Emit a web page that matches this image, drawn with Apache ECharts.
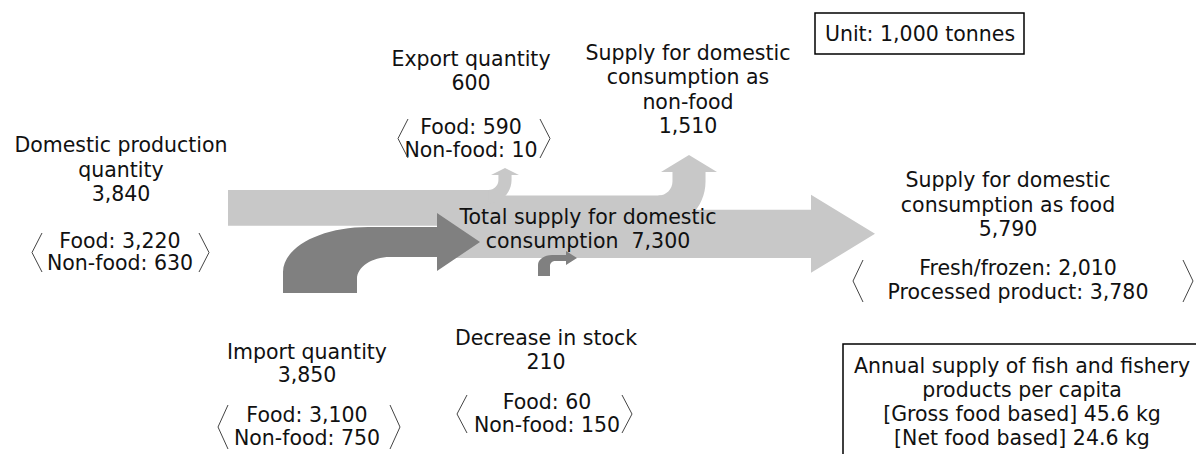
<!DOCTYPE html>
<html>
<head>
<meta charset="utf-8">
<script src="https://cdn.jsdelivr.net/npm/echarts@6/dist/echarts.min.js"></script>
<style>
  html, body { margin: 0; padding: 0; background: #fff; }
  #chart { width: 1196px; height: 454px; }
</style>
</head>
<body>
<div id="chart"></div>
<script>
  // unit: 1,000 tonnes
  var domestic = [3840, 3220, 630];      // total, food, non-food
  var imports = [3850, 3100, 750];
  var stockDecrease = [210, 60, 150];
  var exportQty = [600, 590, 10];
  var totalSupply = 7300;
  var nonFoodSupply = 1510;
  var foodSupply = [5790, 2010, 3780];   // total, fresh/frozen, processed
  var perCapita = [45.6, 24.6];          // kg, gross / net food based

  function fmt(n) { return n.toLocaleString('en-US'); }

  // flow thickness: px per 1,000 t
  var k = 68 / totalSupply;
  var K = 0.5523; // bezier quarter circle

  // layout (positions only)
  var band = { left: 228, top: 190, bodyLeft: 455, headBase: 811, tip: 875, headHalf: 39 };
  var exportBr = { cx: 505, rIn: 10, headBase: 175, headW: 28, headH: 7 };
  var nonFoodBr = { cx: 689, rIn: 14, headBase: 172, headW: 56, headH: 17 };
  var importArrow = { stemX: 283, stemW: 74, bottom: 293, shaftY: 242, shaftW: 30, ro: 45, ro2: 85, ri: 22, ri2: 33, headX: 437, headW: 58, tipX: 480 };
  var stockArrow = { stemX: 538, stemW: 12, bottom: 276, shaftY: 258, shaftW: 6, ro: 10, ro2: 14, ri: 5, ri2: 5, headX: 566, headW: 14, tipX: 577 };

  var LIGHT = '#c8c8c8', DARK = '#808080', INK = '#111';
  var FONT = '20.5px "DejaVu Sans", sans-serif';

  function mainShape() {
    var yExp = band.top + exportQty[0] * k;
    var yNon = yExp + nonFoodSupply * k;
    var yDom = band.top + domestic[0] * k;
    var yBot = band.top + totalSupply * k;
    var mid = (yNon + yBot) / 2;
    return [
      ['M', band.left, band.top], ['L', exportBr.cx, band.top], ['L', exportBr.cx, yExp],
      ['L', nonFoodBr.cx, yExp], ['L', nonFoodBr.cx, yNon], ['L', band.headBase, yNon],
      ['L', band.headBase, mid - band.headHalf], ['L', band.tip, mid], ['L', band.headBase, mid + band.headHalf],
      ['L', band.headBase, yBot], ['L', band.bodyLeft, yBot], ['L', band.bodyLeft, yDom],
      ['L', band.left, yDom], ['Z']
    ];
  }

  function branchUp(b, yTop, w) {
    var xl = b.cx - w / 2, xr = b.cx + w / 2, ax = xl - b.rIn, ay = yTop - b.rIn, rOut = b.rIn + w;
    return [
      ['M', ax, yTop],
      ['C', ax + b.rIn * K, yTop, xl, ay + b.rIn * K, xl, ay],
      ['L', xl, b.headBase], ['L', b.cx - b.headW / 2, b.headBase], ['L', b.cx, b.headBase - b.headH],
      ['L', b.cx + b.headW / 2, b.headBase], ['L', xr, b.headBase], ['L', xr, ay],
      ['C', xr, ay + rOut * K, ax + rOut * K, ay + rOut, ax, ay + rOut],
      ['Z']
    ];
  }

  function bentRight(a) {
    var sT = a.shaftY - a.shaftW / 2, sB = a.shaftY + a.shaftW / 2, xr = a.stemX + a.stemW;
    return [
      ['M', a.stemX, a.bottom], ['L', a.stemX, sT + a.ro],
      ['C', a.stemX, sT + a.ro * (1 - K), a.stemX + a.ro2 * (1 - K), sT, a.stemX + a.ro2, sT],
      ['L', a.headX, sT], ['L', a.headX, a.shaftY - a.headW / 2], ['L', a.tipX, a.shaftY],
      ['L', a.headX, a.shaftY + a.headW / 2], ['L', a.headX, sB], ['L', xr + a.ri2, sB],
      ['C', xr + a.ri2 * (1 - K), sB, xr, sB + a.ri * (1 - K), xr, sB + a.ri],
      ['L', xr, a.bottom], ['Z']
    ];
  }

  var shapes = [
    { cmds: mainShape(), color: LIGHT },
    { cmds: branchUp(exportBr, band.top, exportQty[0] * k * 2.35), color: LIGHT },
    { cmds: branchUp(nonFoodBr, band.top + exportQty[0] * k, nonFoodSupply * k * 2.35), color: LIGHT },
    { cmds: bentRight(importArrow), color: DARK },
    { cmds: bentRight(stockArrow), color: DARK }
  ];

  function toPath(api, cmds) {
    return cmds.map(function (c) {
      if (c[0] === 'Z') return 'Z';
      var s = c[0];
      for (var i = 1; i < c.length; i += 2) {
        var p = api.coord([c[i], c[i + 1]]);
        s += ' ' + p[0].toFixed(2) + ' ' + p[1].toFixed(2);
      }
      return s;
    }).join(' ');
  }

  // text blocks
  function txt(x, y, lines, lh) {
    return { type: 'text', z: 100, x: x, y: y, silent: true,
      style: { text: lines.join('\n'), font: FONT, fill: INK, align: 'center', verticalAlign: 'middle', lineHeight: lh } };
  }
  function bracket(x0, x1, y0, y1) {
    return { type: 'polyline', z: 100, silent: true,
      shape: { points: [[x1, y0], [x0, (y0 + y1) / 2], [x1, y1]] },
      style: { stroke: '#444', lineWidth: 1, fill: null } };
  }

  var graphics = [
    txt(121, 169.5, ['Domestic production', 'quantity', fmt(domestic[0])], 24.5),
    txt(120, 252, ['Food: ' + fmt(domestic[1]), 'Non-food: ' + fmt(domestic[2])], 22.5),
    bracket(32, 42, 233, 272), bracket(209, 199, 233, 272),

    txt(471, 71, ['Export quantity', fmt(exportQty[0])], 24),
    txt(471, 138.5, ['Food: ' + fmt(exportQty[1]), 'Non-food: ' + fmt(exportQty[2])], 22.5),
    bracket(398, 408, 119, 158), bracket(550, 540, 119, 158),

    txt(688, 89.5, ['Supply for domestic', 'consumption as', 'non-food', fmt(nonFoodSupply)], 24.5),

    txt(588, 229, ['Total supply for domestic', 'consumption  ' + fmt(totalSupply)], 24.2),

    txt(1008, 204.5, ['Supply for domestic', 'consumption as food', fmt(foodSupply[0])], 24.5),
    txt(1018, 280, ['Fresh/frozen: ' + fmt(foodSupply[1]), 'Processed product: ' + fmt(foodSupply[2])], 24),
    bracket(853, 863, 260, 302), bracket(1193, 1183, 260, 302),

    txt(307, 363, ['Import quantity', fmt(imports[0])], 23),
    txt(307, 426.5, ['Food: ' + fmt(imports[1]), 'Non-food: ' + fmt(imports[2])], 23),
    bracket(218, 228, 405, 449), bracket(400, 390, 405, 449),

    txt(546, 350, ['Decrease in stock', fmt(stockDecrease[0])], 24),
    txt(547, 413.5, ['Food: ' + fmt(stockDecrease[1]), 'Non-food: ' + fmt(stockDecrease[2])], 23),
    bracket(457, 467, 395, 433), bracket(632, 622, 395, 433),

    { type: 'rect', z: 90, silent: true, shape: { x: 815, y: 13, width: 209, height: 41 },
      style: { fill: '#fff', stroke: '#000', lineWidth: 1.5 } },
    txt(920, 34, ['Unit: 1,000 tonnes'], 24),

    { type: 'rect', z: 90, silent: true, shape: { x: 843, y: 344, width: 400, height: 200 },
      style: { fill: '#fff', stroke: '#000', lineWidth: 1.5 } },
    txt(1022, 402, ['Annual supply of fish and fishery', 'products per capita',
      '[Gross food based] ' + perCapita[0] + ' kg', '[Net food based] ' + perCapita[1] + ' kg'], 24.3)
  ];

  var chart = echarts.init(document.getElementById('chart'), null, { renderer: 'svg' });
  chart.setOption({
    animation: false,
    backgroundColor: '#fff',
    grid: { left: 0, right: 0, top: 0, bottom: 0 },
    xAxis: { type: 'value', min: 0, max: 1196, show: false },
    yAxis: { type: 'value', min: 0, max: 454, inverse: true, show: false },
    series: [{
      type: 'custom',
      silent: true,
      data: shapes.map(function (s, i) { return [i, 0]; }),
      renderItem: function (params, api) {
        var s = shapes[params.dataIndex];
        return { type: 'path', shape: { pathData: toPath(api, s.cmds) }, style: { fill: s.color } };
      }
    }],
    graphic: graphics
  });
</script>
</body>
</html>
